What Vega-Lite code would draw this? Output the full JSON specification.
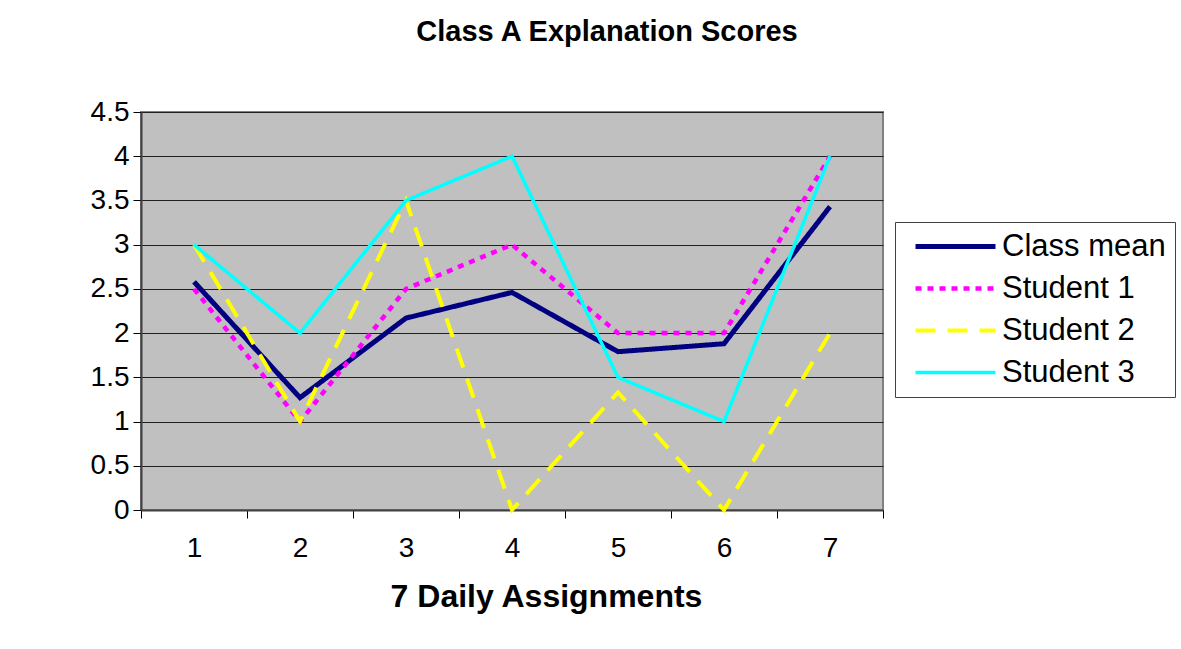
{
  "$schema": "https://vega.github.io/schema/vega-lite/v6.json",
  "width": 742,
  "height": 398,
  "autosize": {"type": "none"},
  "padding": {"left": 141, "top": 112, "right": 298, "bottom": 139},
  "background": "white",
  "title": {
    "text": "Class A Explanation Scores",
    "font": "Liberation Sans",
    "fontSize": 29,
    "fontWeight": "bold",
    "color": "black",
    "anchor": "middle",
    "frame": "group",
    "dx": 95,
    "offset": 51
  },
  "config": {
    "view": {"fill": "#C0C0C0", "stroke": "#808080", "strokeWidth": 2},
    "font": "Liberation Sans"
  },
  "data": {
    "values": [
      {"assignment": 1, "series": "Class mean", "score": 2.58},
      {"assignment": 2, "series": "Class mean", "score": 1.27},
      {"assignment": 3, "series": "Class mean", "score": 2.17},
      {"assignment": 4, "series": "Class mean", "score": 2.46},
      {"assignment": 5, "series": "Class mean", "score": 1.79},
      {"assignment": 6, "series": "Class mean", "score": 1.88},
      {"assignment": 7, "series": "Class mean", "score": 3.43},
      {"assignment": 1, "series": "Student 1", "score": 2.5},
      {"assignment": 2, "series": "Student 1", "score": 1},
      {"assignment": 3, "series": "Student 1", "score": 2.5},
      {"assignment": 4, "series": "Student 1", "score": 3},
      {"assignment": 5, "series": "Student 1", "score": 2},
      {"assignment": 6, "series": "Student 1", "score": 2},
      {"assignment": 7, "series": "Student 1", "score": 4},
      {"assignment": 1, "series": "Student 2", "score": 3},
      {"assignment": 2, "series": "Student 2", "score": 1},
      {"assignment": 3, "series": "Student 2", "score": 3.5},
      {"assignment": 4, "series": "Student 2", "score": 0},
      {"assignment": 5, "series": "Student 2", "score": 1.33},
      {"assignment": 6, "series": "Student 2", "score": 0},
      {"assignment": 7, "series": "Student 2", "score": 2},
      {"assignment": 1, "series": "Student 3", "score": 3},
      {"assignment": 2, "series": "Student 3", "score": 2},
      {"assignment": 3, "series": "Student 3", "score": 3.5},
      {"assignment": 4, "series": "Student 3", "score": 4},
      {"assignment": 5, "series": "Student 3", "score": 1.5},
      {"assignment": 6, "series": "Student 3", "score": 1},
      {"assignment": 7, "series": "Student 3", "score": 4}
    ]
  },
  "mark": {"type": "line", "clip": false},
  "encoding": {
    "x": {
      "field": "assignment",
      "type": "quantitative",
      "scale": {"domain": [0.5, 7.5], "nice": false, "zero": false},
      "axis": {
        "values": [0.5, 1.5, 2.5, 3.5, 4.5, 5.5, 6.5, 7.5],
        "labelExpr": "datum.value < 7 ? format(datum.value + 0.5, 'd') : ''",
        "labelOffset": 53,
        "labelOverlap": false,
        "labelBound": false,
        "labelFlush": false,
        "labelFont": "Liberation Sans",
        "labelFontSize": 28,
        "labelColor": "black",
        "labelPadding": 16,
        "tickSize": 8,
        "tickColor": "black",
        "domainColor": "#404040",
        "domainWidth": 2,
        "grid": false,
        "title": "7 Daily Assignments",
        "titleFont": "Liberation Sans",
        "titleFontSize": 32,
        "titleFontWeight": "bold",
        "titleColor": "black",
        "titlePadding": 19,
        "titleX": 405
      }
    },
    "y": {
      "field": "score",
      "type": "quantitative",
      "scale": {"domain": [0, 4.5], "nice": false},
      "axis": {
        "values": [0, 0.5, 1, 1.5, 2, 2.5, 3, 3.5, 4, 4.5],
        "format": "~g",
        "labelFont": "Liberation Sans",
        "labelFontSize": 28,
        "labelColor": "black",
        "labelPadding": 4,
        "tickSize": 8,
        "tickColor": "black",
        "domainColor": "#404040",
        "domainWidth": 2,
        "grid": true,
        "gridColor": "#202020",
        "gridWidth": 1,
        "gridOpacity": 1,
        "title": null
      }
    },
    "color": {
      "field": "series",
      "type": "nominal",
      "scale": {
        "domain": ["Class mean", "Student 1", "Student 2", "Student 3"],
        "range": ["#000080", "#FF00FF", "#FFFF00", "#00FFFF"]
      },
      "legend": {
        "orient": "none",
        "legendX": 754,
        "legendY": 110,
        "title": null,
        "symbolType": "stroke",
        "symbolSize": 6400,
        "symbolOffset": 9,
        "clipHeight": 31,
        "labelFont": "Liberation Sans",
        "labelFontSize": 31,
        "labelColor": "black",
        "labelOffset": 4,
        "rowPadding": 10,
        "padding": 9,
        "strokeColor": "#404040",
        "fillColor": "white",
        "labelLimit": 300
      }
    },
    "strokeDash": {
      "field": "series",
      "type": "nominal",
      "scale": {
        "domain": ["Class mean", "Student 1", "Student 2", "Student 3"],
        "range": [[1, 0], [6, 6], [20, 12], [1, 0]]
      },
      "legend": null
    },
    "strokeWidth": {
      "field": "series",
      "type": "nominal",
      "scale": {
        "domain": ["Class mean", "Student 1", "Student 2", "Student 3"],
        "range": [5, 3.5, 4, 1.5]
      },
      "legend": null
    }
  }
}
